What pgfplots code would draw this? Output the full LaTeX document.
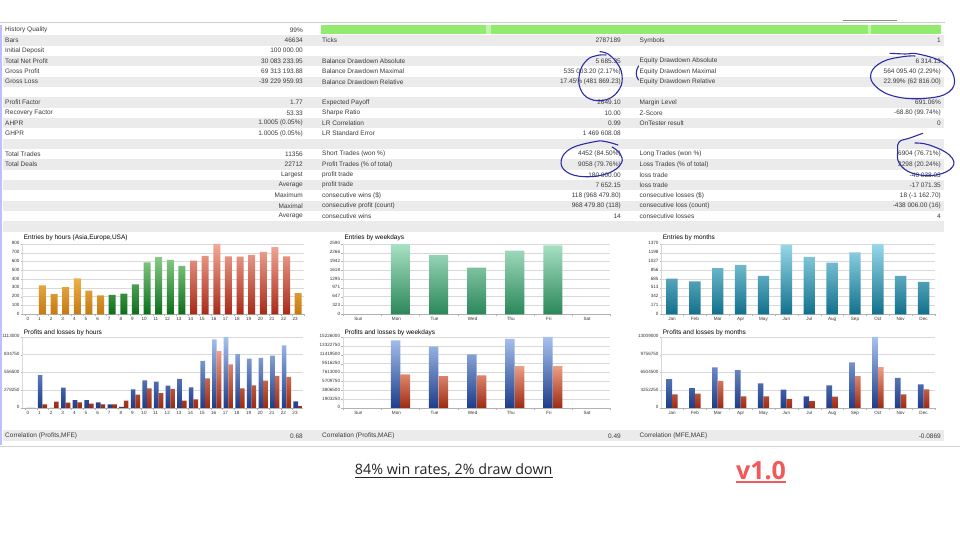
\documentclass[border=0pt]{standalone}
\usepackage{pgfplots}
\pgfplotsset{compat=1.18}
\usepackage{fontspec}
\setmainfont{Liberation Sans}
\newfontfamily\canva{Open Sans}

\definecolor{rowgray}{HTML}{EBEBEB}
\definecolor{txt}{HTML}{3A3A3A}
\definecolor{barG}{HTML}{92EB6E}
\definecolor{ink}{HTML}{2B2DA8}
\definecolor{coral}{HTML}{F2595B}
\definecolor{orT}{HTML}{EDB04A}\definecolor{orB}{HTML}{C47A12}
\definecolor{grT}{HTML}{86CC86}\definecolor{grB}{HTML}{0C6E1A}
\definecolor{rdT}{HTML}{F2A898}\definecolor{rdB}{HTML}{A82A18}
\definecolor{wgT}{HTML}{A8E0C4}\definecolor{wgB}{HTML}{2A8758}
\definecolor{tlT}{HTML}{98D8E8}\definecolor{tlB}{HTML}{11708C}
\definecolor{blT}{HTML}{A7C2EE}\definecolor{blB}{HTML}{1D3C8A}
\definecolor{lsT}{HTML}{EF9E86}\definecolor{lsB}{HTML}{9C2A12}

\newcommand{\tfont}{\fontsize{6.5}{7}\selectfont}

% one row of the report table: index, then three label/value pairs
\newcommand{\row}[7]{%
  \pgfmathsetmacro{\ry}{510-10.35*#1}%
  \node[lab] at (5,\ry) {#2};
  \node[val] at (303,\ry) {#3};
  \node[lab] at (322,\ry) {#4};
  \node[val] at (621,\ry) {#5};
  \node[lab] at (639.5,\ry) {#6};
  \node[val] at (941,\ry) {#7};
}

\pgfplotsset{
  mt/.style={
    scale only axis, anchor=south west,
    axis x line*=bottom, axis y line*=left,
    x axis line style={draw=black!30, line width=0.5pt},
    y axis line style={draw=black!15, line width=0.5pt},
    ymajorgrids, major grid style={draw=black!15, line width=0.5pt},
    tick label style={font=\fontsize{4.6}{5}\selectfont, text=black!80},
    typeset ticklabels with strut,
    scaled y ticks=false, scaled x ticks=false,
    tick align=outside,
    major tick length=2pt, minor tick length=2pt,
    every major x tick/.style={draw=none},
    every minor x tick/.style={draw=black!30},
    every major y tick/.style={draw=black!30},
    yticklabel style={inner sep=1pt},
    xticklabel style={inner sep=1pt},
    every axis title shift=0pt,
    title style={font=\fontsize{6.5}{7}\selectfont, at={(0,1)}, anchor=base west,
                 inner sep=0pt, xshift=1pt},
    clip=false,
  },
  bars/.style={ybar, bar shift=0, draw=none},
}

\begin{document}
\begin{tikzpicture}[x=1pt,y=1pt]
\useasboundingbox (0,0) rectangle (960,540);
\fill[white] (0,0) rectangle (960,540);

% frame bits
\draw[black!20, line width=0.6pt] (0,518) -- (945,518);
\draw[black!45, line width=0.6pt] (843,519.5) -- (897,519.5);
\draw[black!18, line width=0.6pt] (0,93.3) -- (960,93.3);

% striped rows
\foreach \i in {1,3,...,19}{
  \fill[rowgray] (3,{510-10.35*\i-5.175}) rectangle (944,{510-10.35*\i+5.175});
}
\fill[rowgray] (3,99) rectangle (944,109.5);

% progress bar
\fill[barG] (321,505.5) rectangle (941,515);
\fill[barG!55!white] (486,505.5) rectangle (491,515);
\fill[barG!55!white] (868,505.5) rectangle (871,515);

\begin{scope}[lab/.style={anchor=west, inner sep=0pt, font=\tfont, text=txt},
              val/.style={anchor=east, inner sep=0pt, font=\tfont, text=txt}]
\row{0}{History Quality}{99\%}{}{}{}{}
\row{1}{Bars}{46634}{Ticks}{2787189}{Symbols}{1}
\row{2}{Initial Deposit}{100 000.00}{}{}{}{}
\row{3}{Total Net Profit}{30 083 233.95}{Balance Drawdown Absolute}{5 685.35}{Equity Drawdown Absolute}{6 314.13}
\row{4}{Gross Profit}{69 313 193.88}{Balance Drawdown Maximal}{535 003.20 (2.17\%)}{Equity Drawdown Maximal}{564 095.40 (2.29\%)}
\row{5}{Gross Loss}{-39 229 959.93}{Balance Drawdown Relative}{17.45\% (481 869.23)}{Equity Drawdown Relative}{22.99\% (62 816.00)}
\row{7}{Profit Factor}{1.77}{Expected Payoff}{2649.10}{Margin Level}{691.06\%}
\row{8}{Recovery Factor}{53.33}{Sharpe Ratio}{10.00}{Z-Score}{-68.80 (99.74\%)}
\row{9}{AHPR}{1.0005 (0.05\%)}{LR Correlation}{0.99}{OnTester result}{0}
\row{10}{GHPR}{1.0005 (0.05\%)}{LR Standard Error}{1 469 608.08}{}{}
\row{12}{Total Trades}{11356}{Short Trades (won \%)}{4452 (84.50\%)}{Long Trades (won \%)}{6904 (76.71\%)}
\row{13}{Total Deals}{22712}{Profit Trades (\% of total)}{9058 (79.76\%)}{Loss Trades (\% of total)}{2298 (20.24\%)}
\row{14}{}{Largest}{profit trade}{180 000.00}{loss trade}{-40 038.03}
\row{15}{}{Average}{profit trade}{7 652.15}{loss trade}{-17 071.35}
\row{16}{}{Maximum}{consecutive wins (\$)}{118 (968 479.80)}{consecutive losses (\$)}{18 (-1 162.70)}
\row{17}{}{Maximal}{consecutive profit (count)}{968 479.80 (118)}{consecutive loss (count)}{-438 006.00 (16)}
\row{18}{}{Average}{consecutive wins}{14}{consecutive losses}{4}
% correlation row
\node[lab] at (5,104.2) {Correlation (Profits,MFE)};
\node[val] at (303,104.2) {0.68};
\node[lab] at (322,104.2) {Correlation (Profits,MAE)};
\node[val] at (621,104.2) {0.49};
\node[lab] at (639.5,104.2) {Correlation (MFE,MAE)};
\node[val] at (941,104.2) {-0.0869};
\end{scope}

% left border
\draw[blue!25, line width=1.5pt] (1.2,95) -- (1.2,515);

% ---------- Entries by hours ----------
\begin{axis}[mt, at={(22.7pt,225.7pt)}, width=281.3pt, height=70.3pt,
  xmin=-0.7, xmax=23.5, ymin=0, ymax=800,
  ytick={0,100,...,800},
  yticklabels={0,100,200,300,400,500,600,700,800},
  xtick={0,...,23},
  xticklabels={0,1,2,3,4,5,6,7,8,9,10,11,12,13,14,15,16,17,18,19,20,21,22,23},
  minor xtick={-0.5,0.5,...,23.5},
  xticklabel style={xshift=-3pt},
  title style={yshift=4.5pt},
  title={Entries by hours (Asia,Europe,USA)}]
\addplot[bars, bar width=0.6, top color=orT, bottom color=orB]
  coordinates {(1,330)(2,230)(3,310)(4,410)(5,270)(6,215)(23,240)};
\addplot[bars, bar width=0.6, top color=grT, bottom color=grB]
  coordinates {(7,220)(8,235)(9,340)(10,590)(11,650)(12,620)(13,550)};
\addplot[bars, bar width=0.6, top color=rdT, bottom color=rdB]
  coordinates {(14,610)(15,665)(16,800)(17,660)(18,655)(19,675)(20,710)(21,765)(22,660)};
\end{axis}

% ---------- Entries by weekdays ----------
\begin{axis}[mt, at={(343.3pt,225.7pt)}, width=266.7pt, height=70.3pt,
  xmin=-0.5, xmax=6.5, ymin=0, ymax=2590,
  ytick={0,323.75,647.5,971.25,1295,1618.75,1942.5,2266.25,2590},
  yticklabels={0,323,647,971,1295,1618,1942,2266,2590},
  xtick={0,...,6},
  xticklabels={Sun,Mon,Tue,Wed,Thu,Fri,Sat},
  minor xtick={-0.5,0.5,...,6.5},
  xticklabel style={xshift=-4pt},
  title style={yshift=4.5pt},
  title={Entries by weekdays}]
\addplot[bars, bar width=0.5, top color=wgT, bottom color=wgB]
  coordinates {(1,2585)(2,2185)(3,1718)(4,2345)(5,2541)};
\end{axis}

% ---------- Entries by months ----------
\begin{axis}[mt, at={(661.7pt,225.7pt)}, width=273.3pt, height=70.3pt,
  xmin=-0.45, xmax=11.5, ymin=0, ymax=1370,
  ytick={0,171.25,342.5,513.75,685,856.25,1027.5,1198.75,1370},
  yticklabels={0,171,342,513,685,856,1027,1198,1370},
  xtick={0,...,11},
  xticklabels={Jan,Feb,Mar,Apr,May,Jun,Jul,Aug,Sep,Oct,Nov,Dec},
  minor xtick={-0.5,0.5,...,11.5},
  title style={yshift=4.5pt},
  title={Entries by months}]
\addplot[bars, bar width=0.5, top color=tlT, bottom color=tlB]
  coordinates {(0,695)(1,643)(2,902)(3,961)(4,747)(5,1357)(6,1117)(7,1006)(8,1208)(9,1370)(10,747)(11,630)};
\end{axis}

% ---------- Profits and losses by hours ----------
\begin{axis}[mt, at={(22.7pt,132pt)}, width=280pt, height=71pt,
  xmin=-0.7, xmax=23.4, ymin=0, ymax=1113000,
  ytick={0,278250,556500,834750,1113000},
  yticklabels={0,278250,556500,834750,1113000},
  xtick={0,...,23},
  xticklabels={0,1,2,3,4,5,6,7,8,9,10,11,12,13,14,15,16,17,18,19,20,21,22,23},
  minor xtick={-0.5,0.5,...,23.5},
  xticklabel style={xshift=-3pt},
  title style={yshift=2.5pt},
  title={Profits and losses by hours}]
\addplot[bars, bar width=0.4, bar shift=-0.2, top color=blT, bottom color=blB]
  coordinates {(0,0)(1,517000)(2,0)(3,319000)(4,125000)(5,125000)(6,89000)(7,57000)
  (8,16000)(9,293000)(10,434000)(11,413000)(12,350000)(13,455000)(14,324000)(15,737000)
  (16,1076000)(17,1113000)(18,846000)(19,773000)(20,784000)(21,820000)(22,982000)(23,104000)};
\addplot[bars, bar width=0.4, bar shift=0.2, top color=lsT, bottom color=lsB]
  coordinates {(0,0)(1,57000)(2,99000)(3,84000)(4,89000)(5,68000)(6,57000)(7,57000)
  (8,115000)(9,209000)(10,308000)(11,235000)(12,298000)(13,115000)(14,136000)(15,465000)
  (16,893000)(17,684000)(18,308000)(19,355000)(20,428000)(21,502000)(22,486000)(23,31000)};
\end{axis}

% ---------- Profits and losses by weekdays ----------
\begin{axis}[mt, at={(343.3pt,132pt)}, width=266.7pt, height=71pt,
  xmin=-0.5, xmax=6.5, ymin=0, ymax=15226000,
  ytick={0,1903250,3806500,5709750,7613000,9516250,11419500,13322750,15226000},
  yticklabels={0,1903250,3806500,5709750,7613000,9516250,11419500,13322750,15226000},
  xtick={0,...,6},
  xticklabels={Sun,Mon,Tue,Wed,Thu,Fri,Sat},
  minor xtick={-0.5,0.5,...,6.5},
  xticklabel style={xshift=-4pt},
  title style={yshift=2.5pt},
  title={Profits and losses by weekdays}]
\addplot[bars, bar width=0.25, bar shift=-0.128, top color=blT, bottom color=blB]
  coordinates {(1,14510000)(2,13150000)(3,11510000)(4,14800000)(5,15226000)};
\addplot[bars, bar width=0.25, bar shift=0.128, top color=lsT, bottom color=lsB]
  coordinates {(1,7220000)(2,6860000)(3,7000000)(4,9000000)(5,9000000)};
\end{axis}

% ---------- Profits and losses by months ----------
\begin{axis}[mt, at={(661.7pt,132pt)}, width=273.3pt, height=71pt,
  xmin=-0.45, xmax=11.5, ymin=0, ymax=13009000,
  ytick={0,3252250,6504500,9756750,13009000},
  yticklabels={0,3252250,6504500,9756750,13009000},
  xtick={0,...,11},
  xticklabels={Jan,Feb,Mar,Apr,May,Jun,Jul,Aug,Sep,Oct,Nov,Dec},
  minor xtick={-0.5,0.5,...,11.5},
  title style={yshift=2.5pt},
  title={Profits and losses by months}]
\addplot[bars, bar width=0.25, bar shift=-0.125, top color=blT, bottom color=blB]
  coordinates {(0,5310000)(1,3660000)(2,7450000)(3,6960000)(4,4520000)(5,3360000)
  (6,2140000)(7,4150000)(8,8370000)(9,13009000)(10,5500000)(11,4340000)};
\addplot[bars, bar width=0.25, bar shift=0.125, top color=lsT, bottom color=lsB]
  coordinates {(0,2500000)(1,2630000)(2,4950000)(3,2140000)(4,2140000)(5,1650000)
  (6,1280000)(7,2080000)(8,5860000)(9,7510000)(10,2500000)(11,3420000)};
\end{axis}

% ---------- hand-drawn marks ----------
\begin{scope}[ink, line width=1.1pt, line cap=round]
\draw plot[smooth, tension=0.7] coordinates {(600,488.3)(608,486)(617,477)(622,465)
  (619.5,451)(607,440.5)(590,441)(580,452)(580,468)(587,480)(597,484.5)(606,485)};
\draw plot[smooth, tension=0.7] coordinates {(618,395)(605,398.5)(594.7,398.3)(571.3,391.7)
  (561.3,380)(566.3,368.3)(584.7,363.3)(608,366.7)(621.3,376.7)(619.7,386.7)(612,393)};
\draw plot[smooth, tension=0.7] coordinates {(890,486.7)(905,486)(918,486)(942,478)
  (954,463)(949,448)(926,441.7)(896,443.3)(876,453.3)(871,466.7)(882.7,478.3)(902.7,483.3)(915,484)};
\draw plot[smooth, tension=0.7] coordinates {(922.7,406.7)(910,402)(899.3,398.3)(897.7,390)
  (899.3,376.7)(912.7,366.7)(936,365)(952.7,373.3)(949.3,385)(929.3,395)(915,397)};
\draw (638.5,474) .. controls (635.5,469) and (635.5,464) .. (638.5,460);
\end{scope}

% ---------- captions ----------
\node[anchor=base, inner sep=0pt, font=\canva\fontsize{14.3}{17}\selectfont, text=black!85]
  (cap) at (453.7,65) {84\% win rates, 2\% draw down};
\draw[black!85, line width=0.7pt] ([yshift=-2.4pt]cap.base west) -- ([yshift=-2.4pt]cap.base east);
\node[anchor=base, inner sep=0pt, font=\canva\bfseries\fontsize{25}{29}\selectfont, text=coral]
  (ver) at (761,60.7) {v1.0};
\draw[coral, line width=1.6pt] ([yshift=-2.6pt]ver.base west) -- ([yshift=-2.6pt]ver.base east);
\end{tikzpicture}
\end{document}
